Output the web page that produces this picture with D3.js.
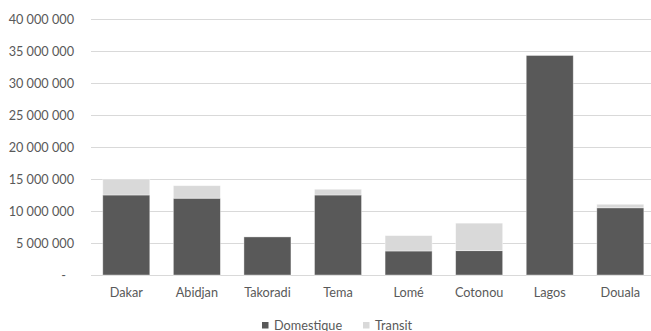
<!DOCTYPE html>
<html>
<head>
<meta charset="utf-8">
<script src="https://cdn.jsdelivr.net/npm/d3@7"></script>
<style>
  html, body { margin: 0; padding: 0; background: #fff; }
  svg { display: block; }
  text { font-family: Lato, "Open Sans", sans-serif; fill: #595959; }
</style>
</head>
<body>
<svg id="chart" width="651" height="331"></svg>
<script>
// Port traffic by type (tonnes)
const ports = ["Dakar", "Abidjan", "Takoradi", "Tema", "Lomé", "Cotonou", "Lagos", "Douala"];
const domestique = [12500000, 12000000, 5950000, 12500000, 3750000, 3800000, 34300000, 10500000];
const transit = [2500000, 1950000, 0, 900000, 2400000, 4300000, 0, 550000];
const seriesNames = ["Domestique", "Transit"];
const seriesColors = ["#595959", "#D9D9D9"];
const yTicks = [0, 5000000, 10000000, 15000000, 20000000, 25000000, 30000000, 35000000, 40000000];

const svg = d3.select("#chart");
const W = 651, H = 331;
const plot = { left: 91, right: 655.6, top: 19, bottom: 275 };
const fontSize = 12.7;

const rows = ports.map((p, i) => ({ port: p, Domestique: domestique[i], Transit: transit[i] }));
const stacked = d3.stack().keys(seriesNames)(rows);

const x = d3.scaleBand().domain(ports).range([plot.left, plot.right]).paddingInner(0.334).paddingOuter(0.167);
const y = d3.scaleLinear().domain([0, 40000000]).range([plot.bottom, plot.top]);

const fmt = v => v === 0 ? "-" : d3.format(",")(v).replace(/,/g, "\u00A0");

// horizontal gridlines
svg.append("g").selectAll("line").data(yTicks).join("line")
  .attr("x1", plot.left).attr("x2", W)
  .attr("y1", d => Math.round(y(d)) + 0.5).attr("y2", d => Math.round(y(d)) + 0.5)
  .attr("stroke", "#D9D9D9").attr("stroke-width", 1);

// y axis labels
const yAxis = d3.axisLeft(y).tickValues(yTicks).tickSize(0).tickPadding(0).tickFormat(fmt);
const gy = svg.append("g").attr("transform", "translate(74,0)").call(yAxis);
gy.select(".domain").remove();
gy.selectAll("text").attr("font-size", fontSize).attr("fill", "#595959")
  .style("font-family", "Lato, 'Open Sans', sans-serif")
  .attr("dx", d => d === 0 ? -8 : 0);

// stacked bars
svg.append("g").selectAll("g").data(stacked).join("g")
  .attr("fill", (d, i) => seriesColors[i])
  .selectAll("rect").data(d => d).join("rect")
  .attr("x", d => x(d.data.port))
  .attr("width", x.bandwidth())
  .attr("y", d => y(d[1]))
  .attr("height", d => y(d[0]) - y(d[1]))
  .attr("stroke", "#fff").attr("stroke-opacity", 0.5).attr("stroke-width", 0.75);

// x axis labels
const xAxis = d3.axisBottom(x).tickSize(0).tickPadding(0);
const gx = svg.append("g").attr("transform", `translate(0,${plot.bottom})`).call(xAxis);
gx.select(".domain").remove();
gx.selectAll("text").attr("font-size", fontSize).attr("fill", "#595959")
  .style("font-family", "Lato, 'Open Sans', sans-serif")
  .attr("dy", "1.7em");

// legend
const legendItems = [
  { name: seriesNames[0], color: seriesColors[0], x: 262 },
  { name: seriesNames[1], color: seriesColors[1], x: 363 }
];
const lg = svg.append("g").selectAll("g").data(legendItems).join("g")
  .attr("transform", d => `translate(${d.x},0)`);
lg.append("rect").attr("x", 0).attr("y", 322).attr("width", 6.5).attr("height", 6.5).attr("fill", d => d.color);
lg.append("text").attr("x", 12).attr("y", 329.5).attr("font-size", fontSize).text(d => d.name);
</script>
</body>
</html>
